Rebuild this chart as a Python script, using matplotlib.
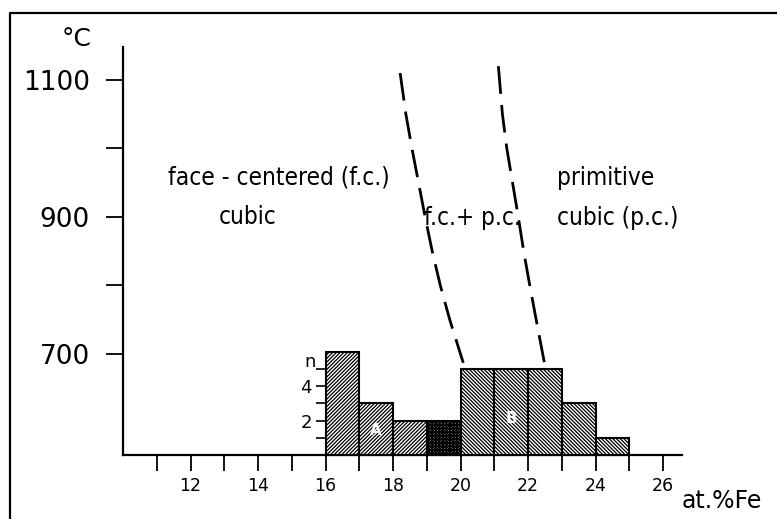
import matplotlib
matplotlib.use("Agg")
import matplotlib.pyplot as plt
from matplotlib.lines import Line2D

# ---- data ----
bin_edges = [16, 17, 18, 19, 20, 21, 22, 23, 24, 25]
counts = [6, 3, 2, 2, 5, 5, 5, 3, 1]
hatches = ['/' * 9, '/' * 9, '/' * 9, 'x' * 12, '\\' * 9, '\\' * 9,
           '\\' * 9, '\\' * 9, '\\' * 9]
n_ticks = [1, 2, 3, 4, 5]
n_labels = ['', '2', '', '4', '']

x_ticks = list(range(11, 27))
x_ticklabels = [str(v) if v % 2 == 0 else '' for v in x_ticks]
y_ticks = [700, 800, 900, 1000, 1100]
y_ticklabels = ['700', '', '900', '', '1100']

# phase boundaries (dashed)
left_T = [1110, 1050, 1000, 900, 850, 800, 750, 687]
left_x = [18.21, 18.38, 18.56, 18.95, 19.16, 19.40, 19.68, 20.08]
right_T = [1120, 1050, 1000, 900, 850, 800, 750, 688]
right_x = [21.12, 21.24, 21.37, 21.71, 21.87, 22.05, 22.24, 22.48]

plt.rcParams['hatch.linewidth'] = 0.9

fig = plt.figure(figsize=(7.77, 5.19), dpi=100)
ax = fig.add_axes([123 / 777, 1 - 455 / 519, (682 - 123) / 777, (455 - 47) / 519])
ax.set_xlim(10, 26.56)
ax.set_ylim(552.5, 1148)
for s in ['top', 'right']:
    ax.spines[s].set_visible(False)
for s in ['left', 'bottom']:
    ax.spines[s].set_linewidth(1.6)

ax.set_xticks(x_ticks)
ax.set_xticklabels(x_ticklabels, family='DejaVu Sans', fontsize=12.5)
ax.set_yticks(y_ticks)
ax.set_yticklabels(y_ticklabels, family='DejaVu Sans', fontsize=19)
ax.tick_params(axis='x', direction='out', length=11.5, width=1.3, pad=4)
ax.tick_params(axis='y', direction='out', length=12, width=1.3, pad=12)

# dashed phase boundaries
ax.plot(left_x, left_T, color='black', lw=2.0, dashes=(10, 4))
ax.plot(right_x, right_T, color='black', lw=2.0, dashes=(10, 4))

# phase labels
txtkw = dict(family='DejaVu Sans', fontstretch='condensed', fontsize=17.5, color='black')
ax.text(11.32, 957, 'face - centered (f.c.)', ha='left', va='center', **txtkw)
ax.text(13.69, 900, 'cubic', ha='center', va='center', **txtkw)
ax.text(20.34, 898, 'f.c.+ p.c.', ha='center', va='center', **txtkw)
ax.text(22.86, 957, 'primitive', ha='left', va='center', **txtkw)
ax.text(22.86, 898, 'cubic (p.c.)', ha='left', va='center', **txtkw)

# histogram inset
px_per_deg = 68.5 / 100.0
h_deg = 6 * 17.2 / px_per_deg
axh = ax.inset_axes([16, 552.5, 9, h_deg], transform=ax.transData)
axh.set_xlim(16, 25)
axh.set_ylim(0, 6)
axh.patch.set_alpha(0)
for s in ['top', 'right', 'bottom', 'left']:
    axh.spines[s].set_visible(False)
axh.set_xticks([])
axh.set_yticks(n_ticks)
axh.set_yticklabels(n_labels, family='DejaVu Sans', fontsize=13)
axh.tick_params(axis='y', direction='out', length=7, width=1.2, pad=3)

for i, c in enumerate(counts):
    axh.bar(bin_edges[i], c, width=bin_edges[i + 1] - bin_edges[i], align='edge',
            facecolor='white', edgecolor='black', hatch=hatches[i], linewidth=1.5,
            clip_on=False)
axh.text(15.55, 5.4, 'n', ha='center', va='center', family='DejaVu Sans', fontsize=13,
         clip_on=False)
axh.text(17.5, 1.4, 'A', ha='center', va='center', color='white', fontsize=11, fontweight='bold')
axh.text(21.5, 2.15, 'B', ha='center', va='center', color='white', fontsize=11, fontweight='bold')

# axis annotations
fig.text(77 / 777, 1 - 39 / 519, '°C', ha='center', va='center', family='DejaVu Sans', fontsize=18)
fig.text(722 / 777, 1 - 501 / 519, 'at.%Fe', ha='center', va='center', family='DejaVu Sans', fontsize=17)

# outer frame
fig.add_artist(Line2D([10 / 777, 10 / 777, 1.0], [0.0, 1 - 13 / 519, 1 - 13 / 519],
                      transform=fig.transFigure, color='black', lw=1.6))

fig.savefig('out.png', dpi=100)
